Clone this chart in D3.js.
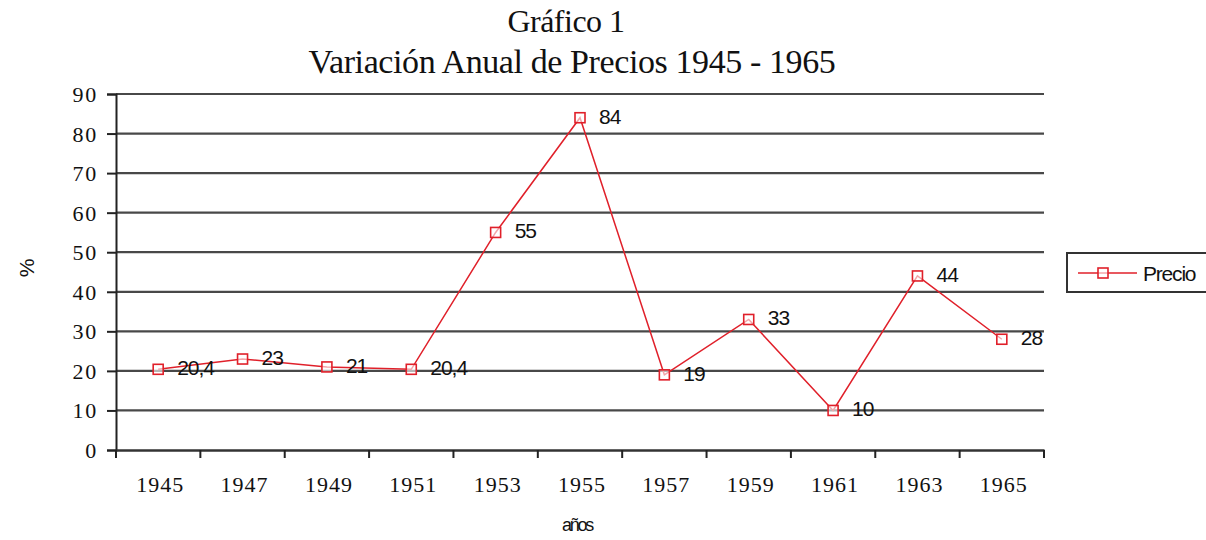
<!DOCTYPE html>
<html>
<head>
<meta charset="utf-8">
<script src="https://cdn.jsdelivr.net/npm/d3@7"></script>
<style>
  body { margin: 0; background: #fff; }
  svg { display: block; }
  .serif { font-family: "Liberation Serif", "Times New Roman", serif; fill: #111; }
  .sans { font-family: "Liberation Sans", Arial, sans-serif; fill: #111; }
</style>
</head>
<body>
<script>
// datos
const years = ['1945','1947','1949','1951','1953','1955','1957','1959','1961','1963','1965'];
const precio = [20.4, 23, 21, 20.4, 55, 84, 19, 33, 10, 44, 28];
const priceLabels = ['20,4','23','21','20,4','55','84','19','33','10','44','28'];
const yTicks = [0,10,20,30,40,50,60,70,80,90];

const width = 1206, height = 540;
const margin = {top: 94, left: 116, right: 1206 - 1044, bottom: 540 - 450};

const svg = d3.select('body').append('svg')
  .attr('width', width)
  .attr('height', height);

const x = d3.scaleBand()
  .domain(years)
  .range([margin.left, width - margin.right]);

const y = d3.scaleLinear()
  .domain([0, 90])
  .range([height - margin.bottom, margin.top]);

// titulo
svg.append('text').attr('class', 'serif')
  .attr('x', 566).attr('y', 32)
  .attr('text-anchor', 'middle')
  .style('font-size', '32px')
  .style('letter-spacing', '-0.5px')
  .text('Gráfico 1');
svg.append('text').attr('class', 'serif')
  .attr('x', 572).attr('y', 73)
  .attr('text-anchor', 'middle')
  .style('font-size', '34px')
  .style('letter-spacing', '-0.4px')
  .text('Variación Anual de Precios 1945 - 1965');

// lineas de cuadricula
svg.append('g')
  .selectAll('line')
  .data(yTicks.filter(d => d > 0))
  .enter().append('line')
  .attr('x1', margin.left).attr('x2', width - margin.right)
  .attr('y1', d => y(d)).attr('y2', d => y(d))
  .attr('stroke', '#484848')
  .attr('stroke-width', 2.2);

// eje y
const yAxis = svg.append('g')
  .attr('transform', 'translate(' + margin.left + ',0)')
  .call(d3.axisLeft(y).tickValues(yTicks).tickSize(9).tickPadding(9));
yAxis.select('.domain').attr('stroke', '#222').attr('stroke-width', 2);
yAxis.selectAll('.tick line').attr('stroke', '#222').attr('stroke-width', 2);
yAxis.selectAll('.tick text')
  .attr('class', 'serif')
  .attr('dy', '0.34em')
  .style('font-size', '22px')
  .style('letter-spacing', '1.8px');

// eje x
const xAxis = svg.append('g')
  .attr('transform', 'translate(0,' + y(0) + ')')
  .call(d3.axisBottom(x).tickSize(0).tickPadding(26));
xAxis.select('.domain').attr('stroke', '#333').attr('stroke-width', 2.5);
xAxis.selectAll('.tick text')
  .attr('class', 'serif')
  .attr('dx', '2px')
  .style('font-size', '22px')
  .style('letter-spacing', '1px');
// marcas entre categorias
xAxis.selectAll('.sep')
  .data(years.concat(['end']))
  .enter().append('line')
  .attr('x1', (d, i) => margin.left + i * x.bandwidth())
  .attr('x2', (d, i) => margin.left + i * x.bandwidth())
  .attr('y1', 0).attr('y2', 8)
  .attr('stroke', '#222').attr('stroke-width', 2);

// titulos de ejes
svg.append('text').attr('class', 'sans')
  .attr('x', 577).attr('y', 531)
  .attr('text-anchor', 'middle')
  .style('font-size', '18px')
  .style('letter-spacing', '-2.3px')
  .text('años');
svg.append('text').attr('class', 'sans')
  .attr('transform', 'translate(34,268) rotate(-90)')
  .attr('text-anchor', 'middle')
  .style('font-size', '21px')
  .text('%');

// linea de datos
const cx = (d, i) => x(years[i]) + x.bandwidth() / 2;
const line = d3.line()
  .x(cx)
  .y(d => y(d));

svg.append('path')
  .datum(precio)
  .attr('d', line)
  .attr('fill', 'none')
  .attr('stroke', '#e0202a')
  .attr('stroke-width', 1.5);

svg.append('g')
  .selectAll('rect')
  .data(precio)
  .enter().append('rect')
  .attr('x', (d, i) => cx(d, i) - 5)
  .attr('y', d => y(d) - 5)
  .attr('width', 10).attr('height', 10)
  .attr('fill', '#fff')
  .attr('fill-opacity', 0.6)
  .attr('stroke', '#e0202a')
  .attr('stroke-width', 1.6);

// etiquetas de valores
svg.append('g')
  .selectAll('text')
  .data(precio)
  .enter().append('text')
  .attr('class', 'sans')
  .attr('x', (d, i) => cx(d, i) + 19)
  .attr('y', d => y(d) + 6)
  .style('font-size', '21px')
  .style('letter-spacing', '-1px')
  .text((d, i) => priceLabels[i]);

// leyenda
const legend = svg.append('g');
legend.append('rect')
  .attr('x', 1067).attr('y', 253)
  .attr('width', 150).attr('height', 39)
  .attr('fill', '#fff')
  .attr('stroke', '#333').attr('stroke-width', 2);
legend.append('line')
  .attr('x1', 1078).attr('x2', 1137)
  .attr('y1', 273).attr('y2', 273)
  .attr('stroke', '#e0202a').attr('stroke-width', 1.5);
legend.append('rect')
  .attr('x', 1098).attr('y', 268)
  .attr('width', 10).attr('height', 10)
  .attr('fill', '#fff').attr('fill-opacity', 0.6)
  .attr('stroke', '#e0202a').attr('stroke-width', 1.6);
legend.append('text').attr('class', 'sans')
  .attr('x', 1143).attr('y', 281)
  .style('font-size', '21px')
  .style('letter-spacing', '-1.2px')
  .text('Precio');
</script>
</body>
</html>
